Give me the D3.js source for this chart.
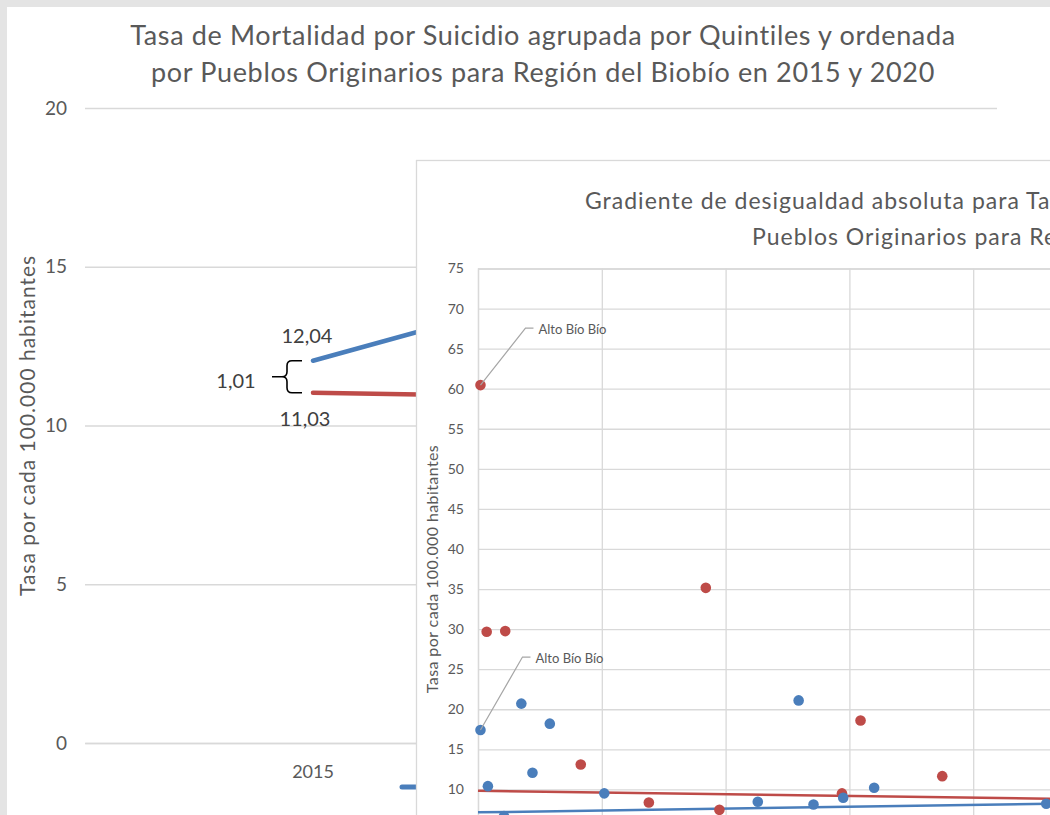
<!DOCTYPE html>
<html>
<head>
<meta charset="utf-8">
<script src="https://cdn.jsdelivr.net/npm/d3@7"></script>
<style>
  body { margin: 0; background: #e4e4e4; }
  svg { display: block; }
</style>
</head>
<body>
<div id="chart"></div>
<script>
// grafico principal
const years = ['2015', '2020'];
const serieAzul = [12.04, 16.0];
const serieRoja = [11.03, 10.8];
const brecha2015 = '1,01';
const yTicks = [0, 5, 10, 15, 20];

// grafico de gradiente (inserto)
const comunasRojo = [
  [0.002, 60.45], [0.007, 29.66], [0.022, 29.75], [0.083, 13.1], [0.138, 8.37],
  [0.184, 35.15], [0.195, 7.45], [0.294, 9.5], [0.309, 18.6], [0.375, 11.65]
];
const comunasAzul = [
  [0.002, 17.4], [0.008, 10.4], [0.021, 6.66], [0.035, 20.7], [0.044, 12.07],
  [0.058, 18.2], [0.102, 9.5], [0.226, 8.45], [0.259, 21.1], [0.271, 8.12],
  [0.295, 8.95], [0.320, 10.2], [0.459, 8.2]
];
const tendenciaRojo = [[0, 9.82], [1, 7.66]];
const tendenciaAzul = [[0, 7.13], [1, 9.45]];
const etiquetaComuna = 'Alto Bío Bío';
const insetYTicks = d3.range(10, 80, 5);
const insetXTicks = d3.range(0, 1.01, 0.1);

const azul = '#4a7ebb', rojo = '#be4b48', gris = '#595959', grid = '#d9d9d9';
const font = 'Lato, "Open Sans", sans-serif';

let width = 1050, height = 815;

let svg = d3.select('#chart')
  .append('svg')
  .attr('width', width)
  .attr('height', height)
  .style('font-family', font);

// fondo del grafico principal
svg.append('rect')
  .attr('x', 7).attr('y', 7)
  .attr('width', width).attr('height', height)
  .attr('fill', 'white');

let margin = { top: 108, bottom: 72, left: 85, right: 53 };

let xscale = d3.scaleBand()
  .domain(years)
  .range([margin.left, width - margin.right]);

let yscale = d3.scaleLinear()
  .domain([0, 20])
  .range([height - margin.bottom, margin.top]);

svg.append('g')
  .attr('transform', `translate(${margin.left},0)`)
  .call(d3.axisLeft(yscale).tickValues(yTicks).tickSize(-(width - margin.left - margin.right)).tickPadding(18))
  .call(g => g.select('.domain').remove())
  .call(g => g.selectAll('line').attr('stroke', grid).attr('stroke-width', 1.3))
  .call(g => g.selectAll('text').attr('fill', gris).style('font-size', '19px').style('font-family', font));

svg.append('g')
  .attr('transform', `translate(0,${yscale(0)})`)
  .call(d3.axisBottom(xscale).tickSize(0).tickPadding(22))
  .call(g => g.select('.domain').attr('stroke', grid).attr('stroke-width', 1.3))
  .call(g => g.selectAll('text').attr('fill', gris).style('font-size', '18px').style('font-family', font));

svg.append('text')
  .attr('x', 543).attr('y', 45)
  .attr('text-anchor', 'middle')
  .attr('fill', gris)
  .style('font-size', '27px')
  .style('letter-spacing', '0.65px')
  .text('Tasa de Mortalidad por Suicidio agrupada por Quintiles y ordenada');

svg.append('text')
  .attr('x', 543).attr('y', 82)
  .attr('text-anchor', 'middle')
  .attr('fill', gris)
  .style('font-size', '27px')
  .style('letter-spacing', '0.65px')
  .text('por Pueblos Originarios para Región del Biobío en 2015 y 2020');

svg.append('text')
  .attr('transform', `translate(35,${(yscale(0) + yscale(20)) / 2}) rotate(-90)`)
  .attr('text-anchor', 'middle')
  .attr('fill', gris)
  .style('font-size', '21px')
  .style('letter-spacing', '1px')
  .text('Tasa por cada 100.000 habitantes');

const cx = d => xscale(d) + xscale.bandwidth() / 2;

const line = d3.line()
  .x((d, i) => cx(years[i]))
  .y(d => yscale(d));

svg.append('path')
  .datum(serieRoja)
  .attr('fill', 'none')
  .attr('stroke', rojo)
  .attr('stroke-width', 4.5)
  .attr('stroke-linecap', 'round')
  .attr('d', line);

svg.append('path')
  .datum(serieAzul)
  .attr('fill', 'none')
  .attr('stroke', azul)
  .attr('stroke-width', 4.5)
  .attr('stroke-linecap', 'round')
  .attr('d', line);

const fmt = v => d3.format('.2f')(v).replace('.', ',');
let x15 = cx(years[0]);

svg.append('text')
  .attr('x', x15 - 6).attr('y', yscale(serieAzul[0]) - 18)
  .attr('text-anchor', 'middle').attr('fill', '#404040')
  .style('font-size', '20px')
  .text(fmt(serieAzul[0]));

svg.append('text')
  .attr('x', x15 - 8).attr('y', yscale(serieRoja[0]) + 33)
  .attr('text-anchor', 'middle').attr('fill', '#404040')
  .style('font-size', '20px')
  .text(fmt(serieRoja[0]));

// llave con la brecha
let y1 = yscale(serieAzul[0]), y2 = yscale(serieRoja[0]), ym = (y1 + y2) / 2;
let bx = x15 - 26;
svg.append('path')
  .attr('fill', 'none')
  .attr('stroke', 'black')
  .attr('stroke-width', 1.6)
  .attr('d', `M${x15 - 11},${y1} H${bx + 5} Q${bx},${y1} ${bx},${y1 + 5} V${ym - 5} Q${bx},${ym} ${bx - 5},${ym} H${x15 - 41}`
    + ` M${bx - 5},${ym} Q${bx},${ym} ${bx},${ym + 5} V${y2 - 5} Q${bx},${y2} ${bx + 5},${y2} H${x15 - 11}`);

svg.append('text')
  .attr('x', x15 - 77).attr('y', ym + 11)
  .attr('text-anchor', 'middle').attr('fill', '#404040')
  .style('font-size', '20px')
  .text(brecha2015);

// muestras de la leyenda (el resto queda tapado por el inserto)
let legend = svg.append('g').attr('transform', `translate(402,${yscale(0) + 44})`);
[azul, rojo].forEach(function(c, i) {
  legend.append('line')
    .attr('x1', i * 160).attr('x2', i * 160 + 28)
    .attr('stroke', c).attr('stroke-width', 5).attr('stroke-linecap', 'round');
});

// ----- inserto: gradiente de desigualdad -----
let inset = svg.append('g');

inset.append('rect')
  .attr('x', 416.5).attr('y', 160.5)
  .attr('width', 1400).attr('height', 900)
  .attr('fill', 'white')
  .attr('stroke', grid)
  .attr('stroke-width', 1.3);

let im = { left: 478, top: 268.5 };
let iw = 1238, ih = 601;

let ix = d3.scaleLinear().domain([0, 1]).range([im.left, im.left + iw]);
let iy = d3.scaleLinear().domain([0, 75]).range([im.top + ih, im.top]);

inset.append('g')
  .attr('transform', `translate(0,${im.top + ih})`)
  .call(d3.axisBottom(ix).tickValues(insetXTicks).tickSize(-ih).tickFormat(''))
  .call(g => g.select('.domain').remove())
  .call(g => g.selectAll('line').attr('stroke', grid).attr('stroke-width', 1.3));

inset.append('g')
  .attr('transform', `translate(${im.left},0)`)
  .call(d3.axisLeft(iy).tickValues(insetYTicks).tickSize(-iw).tickPadding(14))
  .call(g => g.select('.domain').attr('stroke', grid).attr('stroke-width', 1.3))
  .call(g => g.selectAll('line').attr('stroke', grid).attr('stroke-width', 1.3))
  .call(g => g.selectAll('text').attr('fill', gris).style('font-size', '14px').style('font-family', font));

inset.append('text')
  .attr('x', 585).attr('y', 209)
  .attr('fill', gris)
  .style('font-size', '23px')
  .style('letter-spacing', '1px')
  .text('Gradiente de desigualdad absoluta para Tasa de Mortalidad por Suicidio ordenada por');

inset.append('text')
  .attr('x', 752).attr('y', 245)
  .attr('fill', gris)
  .style('font-size', '23px')
  .style('letter-spacing', '1px')
  .text('Pueblos Originarios para Región del Biobío en 2015 y 2020');

inset.append('text')
  .attr('transform', `translate(438,569) rotate(-90)`)
  .attr('text-anchor', 'middle')
  .attr('fill', gris)
  .style('font-size', '16px')
  .style('letter-spacing', '0.4px')
  .text('Tasa por cada 100.000 habitantes');

const tline = d3.line()
  .x(d => ix(d[0]))
  .y(d => iy(d[1]));

inset.append('path')
  .datum(tendenciaRojo)
  .attr('fill', 'none').attr('stroke', rojo).attr('stroke-width', 2.5)
  .attr('d', tline);

inset.append('path')
  .datum(tendenciaAzul)
  .attr('fill', 'none').attr('stroke', azul).attr('stroke-width', 2.5)
  .attr('d', tline);

inset.selectAll('.pr')
  .data(comunasRojo)
  .join('circle')
  .attr('cx', d => ix(d[0]))
  .attr('cy', d => iy(d[1]))
  .attr('r', 5.3)
  .attr('fill', rojo);

inset.selectAll('.pa')
  .data(comunasAzul)
  .join('circle')
  .attr('cx', d => ix(d[0]))
  .attr('cy', d => iy(d[1]))
  .attr('r', 5.3)
  .attr('fill', azul);

// etiquetas de Alto Bio Bio con linea guia
[[comunasRojo[0], 45, -57], [comunasAzul[0], 42, -73]].forEach(function(e) {
  let px = ix(e[0][0]), py = iy(e[0][1]);
  inset.append('path')
    .attr('fill', 'none')
    .attr('stroke', '#a6a6a6')
    .attr('stroke-width', 1.2)
    .attr('d', `M${px},${py} L${px + e[1]},${py + e[2]} H${px + e[1] + 8}`);
  inset.append('text')
    .attr('x', px + e[1] + 13).attr('y', py + e[2] + 6)
    .attr('fill', gris)
    .style('font-size', '13px')
    .text(etiquetaComuna);
});
</script>
</body>
</html>
